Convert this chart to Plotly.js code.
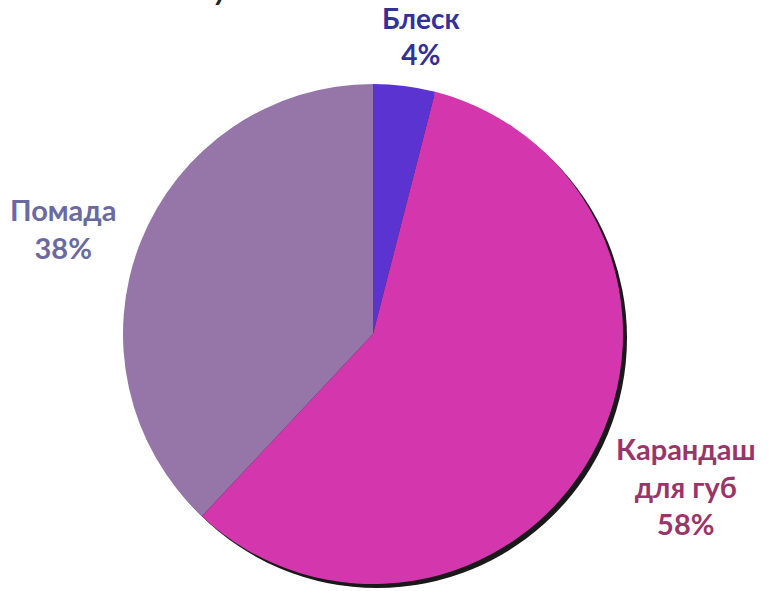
<!DOCTYPE html>
<html>
<head>
<meta charset="utf-8">
<script src="https://cdn.plot.ly/plotly-3.0.1.min.js"></script>
<style>html,body{margin:0;padding:0;background:#fff;}#chart{width:769px;height:591px;}</style>
</head>
<body>
<div id="chart"></div>
<script>
const categories = ["Блеск", "Карандаш для губ", "Помада"];
const labelLines = ["Блеск", "Карандаш<br>для губ", "Помада"];
const values = [4, 58, 38];
const sliceColors = ["#5B33D0", "#D436AD", "#9676A8"];
const labelColors = ["#343099", "#9B3468", "#6A6AA0"];
const titleFragment = "у";

const W = 769, H = 591;
const total = values.reduce((a, b) => a + b, 0);
const pct = values.map(v => Math.round(v / total * 100) + "%");

const px0 = 123, px1 = 623, pyTop = 84, pyBot = 584;
const dom = {x: [px0 / W, px1 / W], y: [1 - pyBot / H, 1 - pyTop / H]};
const sdx = 4, sdy = 4;
const shadowDom = {x: [(px0 + sdx) / W, (px1 + sdx) / W], y: [1 - (pyBot + sdy) / H, 1 - (pyTop + sdy) / H]};

const shadow = {
  type: "pie", values: [total], labels: ["shadow"], sort: false,
  marker: {colors: ["rgba(0,0,0,0.9)"], line: {width: 0}},
  textinfo: "none", hoverinfo: "skip", showlegend: false,
  domain: shadowDom
};
const pie = {
  type: "pie", values: values, labels: categories, sort: false,
  direction: "clockwise", rotation: 0,
  marker: {colors: sliceColors, line: {width: 0}},
  textinfo: "none", showlegend: false,
  domain: dom
};

const labelPos = [
  {x: 421, y: 0, anchor: "top", size: 28},
  {x: 686, y: 486, anchor: "middle", size: 29},
  {x: 63, y: 228, anchor: "middle", size: 29}
];
const font = "Lato, 'Open Sans', sans-serif";
const annotations = categories.map((c, i) => ({
  xref: "paper", yref: "paper",
  x: labelPos[i].x / W, y: 1 - labelPos[i].y / H,
  xanchor: "center", yanchor: labelPos[i].anchor,
  borderpad: 0,
  text: "<b>" + labelLines[i] + "<br>" + pct[i] + "</b>",
  showarrow: false,
  font: {family: font, size: labelPos[i].size, color: labelColors[i]},
  align: "center"
}));
annotations.push({
  xref: "paper", yref: "paper",
  x: 222 / W, y: 1 - 8 / H,
  xanchor: "center", yanchor: "bottom",
  text: "<b><i>" + titleFragment + "</i></b>",
  showarrow: false,
  font: {family: font, size: 30, color: "#262626"}
});

Plotly.newPlot("chart", [shadow, pie], {
  width: W, height: H,
  margin: {l: 0, r: 0, t: 0, b: 0},
  paper_bgcolor: "#ffffff",
  annotations: annotations
}, {displayModeBar: false});
</script>
</body>
</html>
